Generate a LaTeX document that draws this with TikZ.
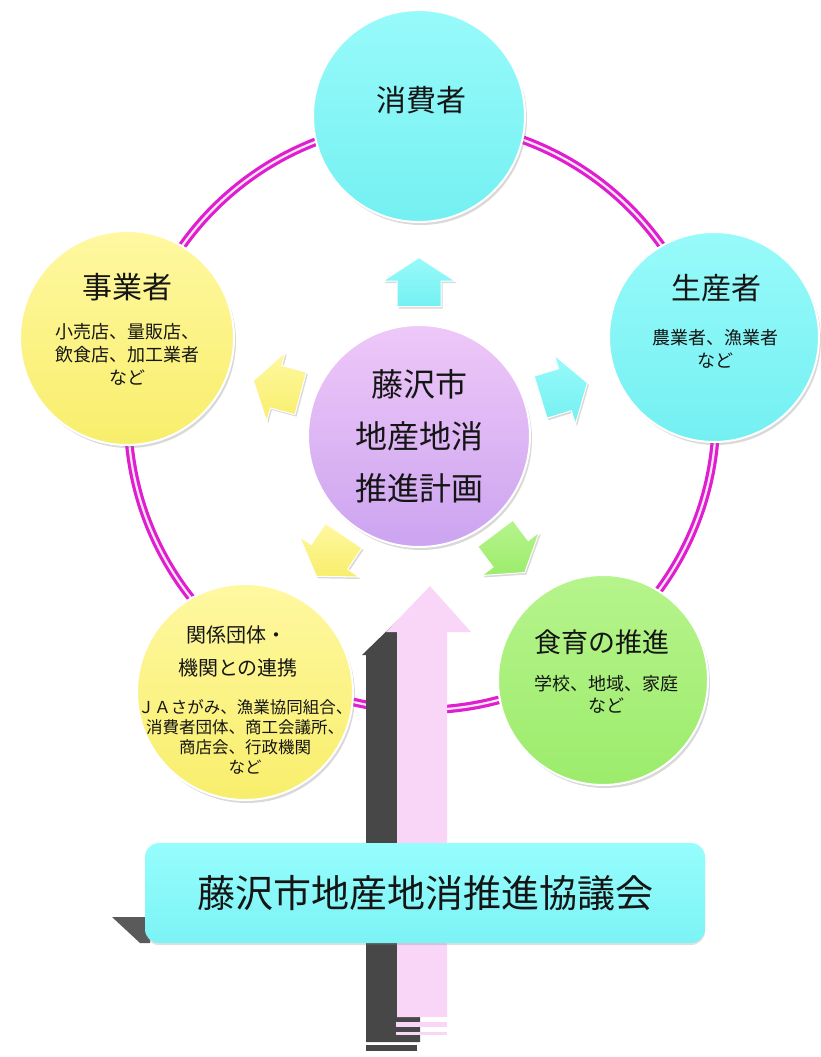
\documentclass[tikz,border=0pt]{standalone}
\usepackage{fontspec}
\setmainfont{Noto Sans CJK JP}
\usetikzlibrary{shadows}
\definecolor{ringmag}{HTML}{E01ED0}
\definecolor{ringin}{HTML}{FCE6FA}
\definecolor{cyT}{HTML}{98FAFA}
\definecolor{cyB}{HTML}{74F0F2}
\definecolor{yeT}{HTML}{FFF8A0}
\definecolor{yeB}{HTML}{F8EE6C}
\definecolor{grT}{HTML}{B6F48C}
\definecolor{grB}{HTML}{9CEC6C}
\definecolor{puT}{HTML}{EEC8F8}
\definecolor{puB}{HTML}{CCA4F0}
\definecolor{pinkA}{HTML}{F9D6F7}
\definecolor{darkA}{HTML}{474747}
\definecolor{boxT}{HTML}{96FDFD}
\definecolor{boxB}{HTML}{7CF3F5}
\definecolor{ink}{HTML}{151515}
\tikzset{
  ball/.style={circle, inner sep=0pt, draw=white, line width=2pt,
    drop shadow={shadow xshift=2pt, shadow yshift=-3pt, opacity=0.3}},
  cyanball/.style={ball, top color=cyT, bottom color=cyB},
  yellowball/.style={ball, top color=yeT, bottom color=yeB},
  greenball/.style={ball, top color=grT, bottom color=grB},
  purpleball/.style={ball, top color=puT, bottom color=puB},
  ttl/.style={text=ink, font=\fontsize{30}{34}\selectfont, inner sep=0pt},
  sub/.style={text=ink, font=\fontsize{18}{23}\selectfont, align=center, inner sep=0pt},
  blk/.style={draw=white, line width=1pt, line join=miter,
    drop shadow={shadow xshift=1.5pt, shadow yshift=-2pt, opacity=0.3}},
}
\newcommand{\blockarrow}[4]{%
  \begin{scope}[shift={#1}, rotate=#2]
    \path[blk, top color=#3, bottom color=#4]
      (-24.5pt,-22pt) -- (1pt,-22pt) -- (1pt,-36pt) -- (24.5pt,0pt)
      -- (1pt,36pt) -- (1pt,22pt) -- (-24.5pt,22pt) -- cycle;
  \end{scope}}
\begin{document}
\begin{tikzpicture}[x=1pt,y=-1pt]
\useasboundingbox (0,0) rectangle (821,1057);

% ring
\node[circle, minimum size=588pt, inner sep=0pt, draw=ringmag, line width=3.2pt,
  double=ringin, double distance=2.2pt] (ring) at (422,416) {};

% outer circles
\node[cyanball, minimum size=212pt] (cons) at (419,116) {};
\node[yellowball, minimum size=214pt] (biz) at (127,338) {};
\node[cyanball, minimum size=210pt] (prod) at (714,337) {};
\node[yellowball, minimum size=216pt] (rel) at (245,692) {};
\node[greenball, minimum size=210pt] (edu) at (603,680) {};
\node[purpleball, minimum size=222pt] (plan) at (419,436) {};

% small arrows
\blockarrow{(419,282)}{90}{cyT}{cyB}
\blockarrow{(277,387)}{165}{yeT}{yeB}
\blockarrow{(564,390)}{17}{cyT}{cyB}
\blockarrow{(330,556)}{236}{yeT}{yeB}
\blockarrow{(510,553)}{307}{grT}{grB}

% big arrow (shadow, then pink)
\fill[darkA] (366,1042) -- (366,655) -- (362,655) -- (398,620) -- (420,640)
  -- (420,1042) -- cycle;
\fill[pinkA] (397,1017) -- (397,632) -- (386,632) -- (430,586) -- (471,632)
  -- (447,632) -- (447,1017) -- cycle;
\fill[darkA] (396,1019) rectangle (416,1021);
\fill[pinkA] (396,1022) rectangle (447,1027);
\fill[darkA] (396,1029) rectangle (416,1031);
\fill[pinkA] (396,1032) rectangle (447,1035);
\fill[darkA] (366,1045) rectangle (417,1051);

% council box
\fill[darkA!90] (112,917) -- (150,917) -- (150,943) -- (140,943) -- cycle;
\node[rectangle, rounded corners=14pt, minimum width=560pt, minimum height=100pt,
  top color=boxT, bottom color=boxB, inner sep=0pt,
  drop shadow={shadow xshift=0pt, shadow yshift=-2pt, opacity=0.25},
  text=ink, font=\fontsize{38}{42}\selectfont] (council) at (425,893)
  {\raisebox{3pt}{藤沢市地産地消推進協議会}};

% texts
\node[ttl] (consT) at (421,100) {消費者};
\node[ttl] (bizT) at (127,287) {事業者};
\node[sub] (bizS) at (127,354) {小売店、量販店、\\飲食店、加工業者\\など};
\node[ttl] (prodT) at (716,288) {生産者};
\node[sub] (prodS) at (715,349) {農業者、漁業者\\など};
\node[text=ink, font=\fontsize{20}{24}\selectfont, inner sep=0pt] (relT1) at (236,635) {関係団体・};
\node[text=ink, font=\fontsize{20}{24}\selectfont, inner sep=0pt] (relT2) at (238,668) {機関との連携};
\node[sub, font=\fontsize{16.5}{20}\selectfont] (relS) at (245,737)
  {ＪＡさがみ、漁業協同組合、\\消費者団体、商工会議所、\\商店会、行政機関\\など};
\node[text=ink, font=\fontsize{27}{30}\selectfont, inner sep=0pt] (eduT) at (602,642) {食育の推進};
\node[sub, font=\fontsize{18}{22}\selectfont] (eduS) at (606,694) {学校、地域、家庭\\など};
\node[text=ink, font=\fontsize{32}{52}\selectfont, align=center, inner sep=0pt] (planT) at (419,436)
  {藤沢市\\地産地消\\推進計画};
\end{tikzpicture}
\end{document}
